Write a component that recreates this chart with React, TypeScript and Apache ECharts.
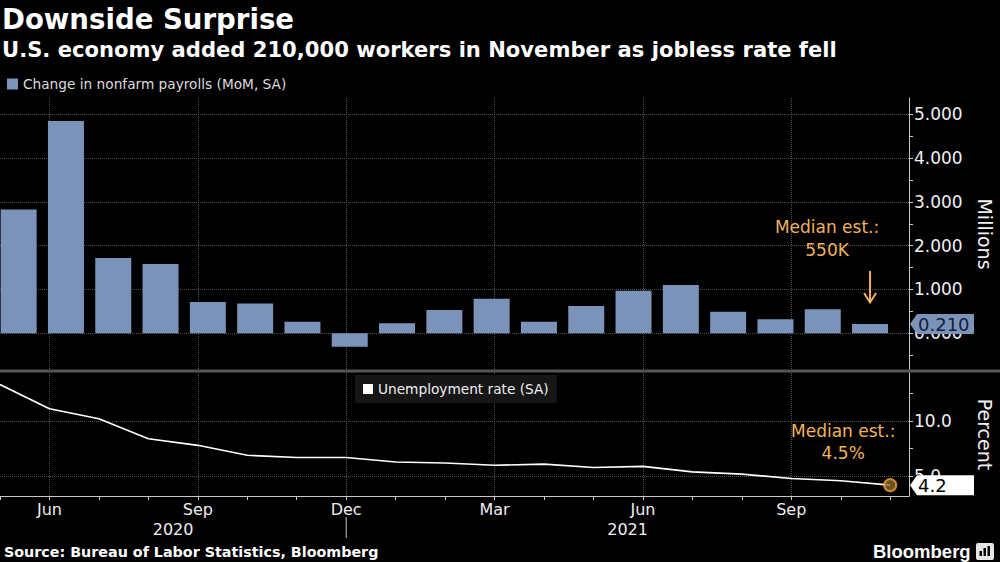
import React, { useEffect, useRef } from 'react';
import * as echarts from 'echarts';

// ---------- data ----------
const MONTHS = [
  'May 2020', 'Jun 2020', 'Jul 2020', 'Aug 2020', 'Sep 2020', 'Oct 2020', 'Nov 2020', 'Dec 2020',
  'Jan 2021', 'Feb 2021', 'Mar 2021', 'Apr 2021', 'May 2021', 'Jun 2021', 'Jul 2021', 'Aug 2021',
  'Sep 2021', 'Oct 2021', 'Nov 2021',
];
const MONTH_ABBR = ['May', 'Jun', 'Jul', 'Aug', 'Sep', 'Oct', 'Nov', 'Dec', 'Jan', 'Feb', 'Mar', 'Apr', 'May', 'Jun', 'Jul', 'Aug', 'Sep', 'Oct', 'Nov'];
// Change in nonfarm payrolls, millions
const PAYROLLS = [2.83, 4.85, 1.72, 1.58, 0.715, 0.68, 0.26, -0.31, 0.23, 0.53, 0.79, 0.26, 0.62, 0.97, 1.1, 0.49, 0.32, 0.55, 0.21];
// Unemployment rate, percent
const UNEMP = [13.3, 11.1, 10.2, 8.4, 7.8, 6.9, 6.7, 6.7, 6.3, 6.2, 6.0, 6.1, 5.8, 5.9, 5.4, 5.2, 4.8, 4.6, 4.2];

const QUARTER_IDX = [1, 4, 7, 10, 13, 16];
const MONTH_IDX = MONTHS.map((_, i) => i);
const YEAR_LABELS = ['2020', '2021'];
const YEAR_BREAK_IDX = 7;

const PAY_TICKS = [0, 1, 2, 3, 4, 5];
const PAY_MINOR_TICKS = [-0.5, 0, 0.5, 1, 1.5, 2, 2.5, 3, 3.5, 4, 4.5, 5];
const RATE_TICKS = [5, 10];
const RATE_MINOR_TICKS = [5, 7.5, 10, 12.5];

const BAR_NAME = 'Change in nonfarm payrolls (MoM, SA)';
const LINE_NAME = 'Unemployment rate (SA)';
const EST_PAYROLLS = '550K';
const EST_RATE = '4.5%';

// ---------- style ----------
const FONT = "'DejaVu Sans', sans-serif";
const BAR_COLOR = '#7b93b8';
const ORANGE = '#f1b35c';
const AXIS_COLOR = '#c8c8c8';
const GRID_LINE = { color: '#505050', type: 'dotted' as const, width: 1 };
const GRID_RIGHT = 91;
const AXIS_X = 1000 - GRID_RIGHT;
const X_MIN = 0;
const X_MAX = 18.38;

export default function App() {
  const ref = useRef<HTMLDivElement>(null);

  useEffect(() => {
    const chart = echarts.init(ref.current!, null, { renderer: 'svg' });
    const last = MONTHS.length - 1;

    const option: any = {
      animation: false,
      backgroundColor: '#000',
      textStyle: { fontFamily: FONT },
      grid: [
        { left: -5, right: 106.3, top: 98, bottom: 192, containLabel: false, outerBoundsMode: 'none' },
        { left: 0, right: GRID_RIGHT, top: 98, bottom: 192, containLabel: false, outerBoundsMode: 'none' },
        { left: 0, right: GRID_RIGHT, top: 373, bottom: 66, containLabel: false, outerBoundsMode: 'none' },
      ],
      legend: [
        {
          data: [BAR_NAME], left: 7, top: 77, padding: 0, icon: 'rect', itemWidth: 11, itemHeight: 11,
          selectedMode: false, textStyle: { color: '#dcdcdc', fontSize: 13.7, fontFamily: FONT },
        },
        {
          data: [LINE_NAME], left: 355, top: 375, padding: [7, 8, 7, 8], backgroundColor: '#161616',
          icon: 'rect', itemWidth: 10, itemHeight: 10, selectedMode: false,
          textStyle: { color: '#f0f0f0', fontSize: 13.7, fontFamily: FONT },
        },
      ],
      xAxis: [
        { gridIndex: 0, type: 'category', data: MONTHS, show: false, boundaryGap: true },
        {
          gridIndex: 1, type: 'value', min: X_MIN, max: X_MAX,
          axisLine: { show: false }, axisLabel: { show: false },
          axisTick: { show: false, customValues: QUARTER_IDX },
          splitLine: { show: true, lineStyle: GRID_LINE },
        },
        {
          gridIndex: 2, type: 'value', min: X_MIN, max: X_MAX, position: 'bottom',
          axisLine: { show: true, onZero: false, lineStyle: { color: AXIS_COLOR, width: 1 } },
          axisTick: { show: true, length: 4, customValues: MONTH_IDX, lineStyle: { color: AXIS_COLOR } },
          axisLabel: {
            customValues: QUARTER_IDX, formatter: (v: number) => MONTH_ABBR[Math.round(v)],
            color: '#eeeeee', fontSize: 16, fontFamily: FONT, margin: 5,
          },
          splitLine: { show: false },
        },
        {
          gridIndex: 2, type: 'value', min: X_MIN, max: X_MAX,
          axisLine: { show: false }, axisLabel: { show: false },
          axisTick: { show: false, customValues: QUARTER_IDX },
          splitLine: { show: true, lineStyle: GRID_LINE },
        },
      ],
      yAxis: [
        { gridIndex: 0, type: 'value', min: -0.84, max: 5.375, show: false },
        {
          gridIndex: 1, type: 'value', position: 'right', min: -0.84, max: 5.375,
          axisLine: { show: true, onZero: false, lineStyle: { color: AXIS_COLOR, width: 1 } },
          axisTick: { show: true, length: 4, customValues: PAY_MINOR_TICKS, lineStyle: { color: AXIS_COLOR } },
          axisLabel: {
            customValues: PAY_TICKS, formatter: (v: number) => v.toFixed(3),
            color: '#f0f0f0', fontSize: 17, fontFamily: FONT, margin: 5,
          },
          splitLine: { show: false },
        },
        {
          gridIndex: 1, type: 'value', position: 'right', min: -0.84, max: 5.375,
          axisLine: { show: false, onZero: false }, axisLabel: { show: false },
          axisTick: { show: false, customValues: PAY_TICKS },
          splitLine: { show: true, lineStyle: GRID_LINE },
        },
        {
          gridIndex: 2, type: 'value', position: 'right', min: 3.22, max: 14.34,
          axisLine: { show: true, onZero: false, lineStyle: { color: AXIS_COLOR, width: 1 } },
          axisTick: { show: true, length: 4, customValues: RATE_MINOR_TICKS, lineStyle: { color: AXIS_COLOR } },
          axisLabel: {
            customValues: RATE_TICKS, formatter: (v: number) => v.toFixed(1),
            color: '#f0f0f0', fontSize: 17, fontFamily: FONT, margin: 5,
          },
          splitLine: { show: false },
        },
        {
          gridIndex: 2, type: 'value', position: 'right', min: 3.22, max: 14.34,
          axisLine: { show: false, onZero: false }, axisLabel: { show: false },
          axisTick: { show: false, customValues: RATE_TICKS },
          splitLine: { show: true, lineStyle: GRID_LINE },
        },
      ],
      series: [
        {
          type: 'bar', name: BAR_NAME, xAxisIndex: 0, yAxisIndex: 0, data: PAYROLLS,
          barWidth: 36, itemStyle: { color: BAR_COLOR }, z: 3,
        },
        {
          type: 'line', name: LINE_NAME, xAxisIndex: 2, yAxisIndex: 3,
          data: UNEMP.map((v, i) => [i, v]), symbol: 'none',
          lineStyle: { color: '#ffffff', width: 1.6 }, itemStyle: { color: '#ffffff' }, z: 3,
        },
        {
          type: 'scatter', xAxisIndex: 2, yAxisIndex: 3, data: [[last, UNEMP[last]]],
          symbolSize: 12, itemStyle: { color: '#8a6526', borderColor: '#eda63a', borderWidth: 2 }, z: 5,
        },
      ],
    };
    chart.setOption(option);

    const barX = chart.convertToPixel({ xAxisIndex: 0 }, MONTHS[last]) as number;
    const barY = chart.convertToPixel({ yAxisIndex: 1 }, PAYROLLS[last]) as number;
    const dotX = chart.convertToPixel({ xAxisIndex: 2 }, last) as number;
    const dotY = chart.convertToPixel({ yAxisIndex: 3 }, UNEMP[last]) as number;
    const breakX = chart.convertToPixel({ xAxisIndex: 2 }, YEAR_BREAK_IDX) as number;
    const startX = chart.convertToPixel({ xAxisIndex: 2 }, X_MIN) as number;

    const tag = (y: number, fill: string, text: string, color: string) => ({
      type: 'group', z: 60,
      children: [
        {
          type: 'polygon', z: 60,
          shape: { points: [[AXIS_X + 1, y], [AXIS_X + 8, y - 10], [AXIS_X + 65, y - 10], [AXIS_X + 65, y + 10], [AXIS_X + 8, y + 10]] },
          style: { fill },
        },
        {
          type: 'text', z: 61, x: AXIS_X + 9, y: y + 0.5,
          style: { text, fill: color, fontSize: 18, fontFamily: FONT, align: 'left', verticalAlign: 'middle' },
        },
      ],
    });

    const txt = (x: number, y: number, text: string, extra: any = {}) => ({
      type: 'text', z: 50, x, y,
      style: { text, fill: '#ffffff', fontFamily: FONT, fontSize: 16, align: 'left', verticalAlign: 'middle', ...extra },
    });

    chart.setOption({
      graphic: [
        txt(2, 19.5, 'Downside Surprise', { fontSize: 27.6, fontWeight: 'bold' }),
        txt(2, 49, 'U.S. economy added 210,000 workers in November as jobless rate fell', { fontSize: 21.1, fontWeight: 'bold' }),
        {
          type: 'line', z: 40, shape: { x1: 0, y1: 371, x2: 1000, y2: 371 },
          style: { stroke: '#555555', lineWidth: 3 },
        },
        { ...txt(985, 234, 'Millions', { fontSize: 19, align: 'center', fill: '#f0f0f0' }), rotation: -Math.PI / 2 },
        { ...txt(985, 434.5, 'Percent', { fontSize: 19, align: 'center', fill: '#f0f0f0' }), rotation: -Math.PI / 2 },
        tag(barY, BAR_COLOR, PAYROLLS[last].toFixed(3), '#14203a'),
        tag(dotY, '#ffffff', UNEMP[last].toFixed(1), '#000000'),
        txt(barX - 43, 238.5, 'Median est.:\n' + EST_PAYROLLS, { fontSize: 17, align: 'center', fill: ORANGE, lineHeight: 23 }),
        {
          type: 'line', z: 50, shape: { x1: barX, y1: 271, x2: barX, y2: 302 },
          style: { stroke: ORANGE, lineWidth: 2 },
        },
        {
          type: 'polyline', z: 50, shape: { points: [[barX - 6, 293], [barX, 302.5], [barX + 6, 293]] },
          style: { stroke: ORANGE, lineWidth: 2, fill: null },
        },
        txt(dotX - 47, 441.7, 'Median est.:\n' + EST_RATE, { fontSize: 17, align: 'center', fill: ORANGE, lineHeight: 22 }),
        txt((startX + breakX) / 2, 529, YEAR_LABELS[0], { align: 'center', fill: '#eeeeee' }),
        txt((breakX + AXIS_X) / 2, 529, YEAR_LABELS[1], { align: 'center', fill: '#eeeeee' }),
        {
          type: 'line', z: 50, shape: { x1: breakX, y1: 517, x2: breakX, y2: 538 },
          style: { stroke: AXIS_COLOR, lineWidth: 1 },
        },
        txt(4, 552, 'Source: Bureau of Labor Statistics, Bloomberg', { fontSize: 14.3, fontWeight: 'bold' }),
        txt(873, 551, 'Bloomberg', { fontSize: 18.5, fontWeight: 'bold', fontFamily: "'Liberation Sans', sans-serif" }),
        {
          type: 'rect', z: 50, shape: { x: 976, y: 543, width: 18, height: 17, r: 2 },
          style: { fill: '#e6e6e6' },
        },
        { type: 'rect', z: 51, shape: { x: 979.5, y: 551, width: 2.5, height: 5 }, style: { fill: '#000' } },
        { type: 'rect', z: 51, shape: { x: 983.5, y: 548, width: 2.5, height: 8 }, style: { fill: '#000' } },
        { type: 'rect', z: 51, shape: { x: 987.5, y: 546, width: 2.5, height: 10 }, style: { fill: '#000' } },
      ],
    });

    return () => chart.dispose();
  }, []);

  return (
    <div
      ref={ref}
      style={{ position: 'absolute', left: 0, top: 0, width: 1000, height: 562, background: '#000' }}
    />
  );
}
